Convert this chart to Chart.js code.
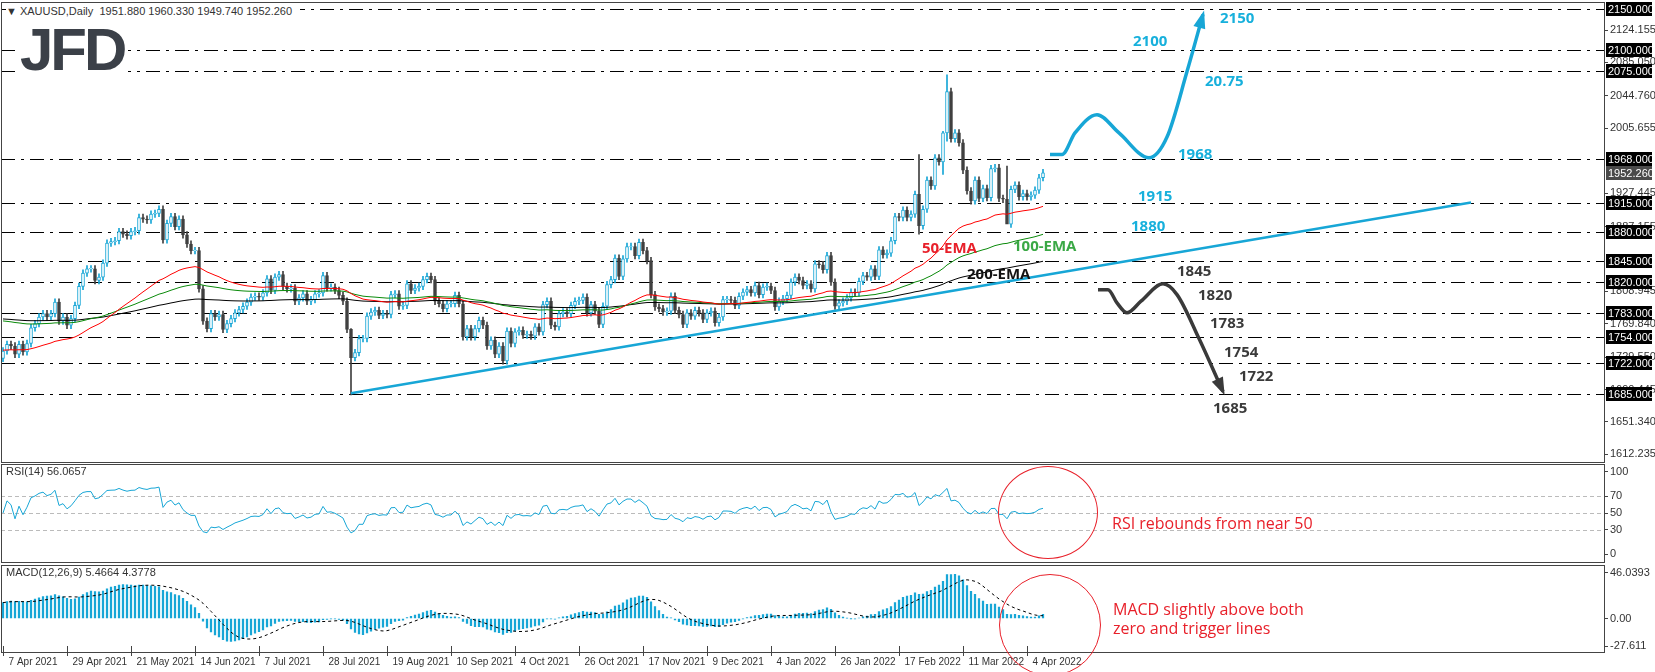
<!DOCTYPE html>
<html>
<head>
<meta charset="utf-8">
<script src="https://cdn.jsdelivr.net/npm/chart.js@4.4.1/dist/chart.umd.min.js"></script>
<style>
  body { margin:0; background:#fff; width:1655px; height:672px; overflow:hidden; font-family:"Liberation Sans", Arial, sans-serif; }
  .pane { position:absolute; left:0; width:1655px; }
  .txt { position:absolute; white-space:nowrap; }
  .lb { font-weight:bold; font-size:15px; line-height:18px; font-family:"Open Sans", "Liberation Sans", sans-serif; }
  .blue { color:#17b0dc; }
  .dark { color:#3a3a3a; }
  .ring { position:absolute; border:1px solid #e8202a; border-radius:50%; }
  .note { position:absolute; white-space:nowrap; font-size:16px; line-height:19px; color:#e8202a; font-family:"Open Sans", sans-serif; }
</style>
</head>
<body>
<div class="pane" style="top:0;height:463px"><canvas id="price"></canvas></div>
<div class="pane" style="top:463px;height:100px"><canvas id="rsi"></canvas></div>
<div class="pane" style="top:564px;height:108px"><canvas id="macd"></canvas></div>

<div class="txt" style="left:6px;top:5px;font-size:11px;color:#333;background:#fff;padding-right:8px">&#9660; XAUUSD,Daily&nbsp; 1951.880 1960.330 1949.740 1952.260</div>
<div class="txt" style="left:20px;top:22px;width:108px;height:56px;background:#fff;font:bold 60px 'Liberation Sans',sans-serif;color:#3b4048;letter-spacing:-3px;line-height:56px">JFD</div>
<div class="txt" style="left:6px;top:465px;font-size:11px;color:#333">RSI(14) 56.0657</div>
<div class="txt" style="left:6px;top:566px;font-size:11px;color:#333">MACD(12,26,9) 5.4664 4.3778</div>

<div class="txt lb blue" style="left:1220px;top:8px">2150</div>
<div class="txt lb blue" style="left:1133px;top:31px">2100</div>
<div class="txt lb blue" style="left:1205px;top:71px">20.75</div>
<div class="txt lb blue" style="left:1178px;top:144px">1968</div>
<div class="txt lb blue" style="left:1138px;top:186px">1915</div>
<div class="txt lb blue" style="left:1131px;top:216px">1880</div>
<div class="txt lb dark" style="left:1177px;top:261px">1845</div>
<div class="txt lb dark" style="left:1198px;top:285px">1820</div>
<div class="txt lb dark" style="left:1210px;top:313px">1783</div>
<div class="txt lb dark" style="left:1224px;top:342px">1754</div>
<div class="txt lb dark" style="left:1239px;top:366px">1722</div>
<div class="txt lb dark" style="left:1213px;top:398px">1685</div>
<div class="txt lb" style="left:922px;top:238px;color:#e8202a">50-EMA</div>
<div class="txt lb" style="left:1013px;top:236px;color:#3aa845">100-EMA</div>
<div class="txt lb" style="left:967px;top:264px;color:#111">200-EMA</div>

<div class="ring" style="left:998px;top:466px;width:98px;height:91px"></div>
<div class="ring" style="left:999px;top:574px;width:100px;height:100px"></div>
<div class="note" style="left:1112px;top:514px">RSI rebounds from near 50</div>
<div class="note" style="left:1113px;top:600px">MACD slightly above both<br>zero and trigger lines</div>

<script>
// daily closes, 16 per label period
const closes = [
  1737,1745,1743,1733,1745,1736,1746,1765,1770,1778,1782,1778,1782,1796,1773,1778,
  1768,1776,1792,1815,1831,1836,1836,1822,1826,1843,1867,1869,1870,1881,1878,1876,
  1881,1882,1898,1896,1895,1902,1903,1908,1871,1891,1899,1887,1896,1877,1866,1858,
  1858,1812,1773,1764,1782,1778,1781,1763,1770,1776,1783,1787,1791,1796,1802,1803,
  1802,1807,1824,1810,1826,1829,1815,1812,1813,1797,1801,1806,1797,1799,1806,1807,
  1828,1813,1814,1810,1804,1797,1763,1729,1735,1752,1752,1779,1784,1786,1780,1782,
  1781,1805,1806,1791,1792,1818,1810,1813,1815,1823,1827,1823,1797,1794,1788,1794,
  1794,1804,1794,1754,1764,1754,1764,1774,1768,1743,1750,1733,1743,1725,1761,1746,
  1760,1762,1756,1757,1755,1766,1760,1793,1797,1768,1766,1782,1784,1782,1792,1797,
  1798,1802,1783,1793,1785,1769,1791,1817,1823,1849,1827,1848,1863,1863,1852,1868,
  1858,1846,1805,1790,1788,1784,1785,1803,1786,1781,1769,1783,1779,1786,1783,1775,
  1783,1785,1771,1778,1799,1799,1798,1792,1803,1808,1811,1807,1816,1805,1814,1815,
  1810,1790,1797,1800,1804,1820,1826,1822,1816,1818,1812,1842,1841,1835,1852,1820,
  1791,1795,1797,1801,1808,1807,1821,1828,1826,1836,1827,1859,1853,1855,1870,1899,
  1898,1907,1898,1902,1926,1888,1908,1943,1936,1970,1965,2000,2050,1993,2000,1988,
  1955,1930,1918,1943,1921,1933,1922,1957,1958,1921,1920,1890,1932,1937,1923,1927,
  1923,1925,1931,1946,1952
];
const openFirst = 1728;
// [index, high, low] for the long wicks
const spikes = [[87, 1764, 1684], [229, 1974, 1878], [236, 2070, 1990], [235, 2002, 1950], [251, 1960, 1895]];
const tickIdx = [0,16,32,48,64,80,96,112,128,144,160,176,192,208,224,240,256];
const tickText = ['7 Apr 2021','29 Apr 2021','21 May 2021','14 Jun 2021','7 Jul 2021','28 Jul 2021',
  '19 Aug 2021','10 Sep 2021','4 Oct 2021','26 Oct 2021','17 Nov 2021','9 Dec 2021','4 Jan 2022',
  '26 Jan 2022','17 Feb 2022','11 Mar 2022','4 Apr 2022'];
const levels = [2150,2100,2075,1968,1915,1880,1845,1820,1783,1754,1722,1685];
const priceTicks = [2124.155,2085.050,2044.760,2005.655,1927.445,1887.155,1808.945,1769.840,1729.550,1690.445,1651.340,1612.235];
const lastPrice = 1952.26;
const ema50Seed = 1738, ema100Seed = 1774, ema200Seed = 1776;
const trendLine = [[87,1686],[367,1916]];
const bullPath = [[261.75,1974],[264.75,1974],[268,2000],[273.5,2022],[279,2000],[286.5,1970],[291,1995],[296,2074],[300,2143]];
const bearPath = [[273.75,1811],[276.25,1811],[278.5,1795],[281,1783],[284.5,1797],[290,1818],[293.5,1805],[299,1752],[305,1688]];

const X_MIN = -0.5, X_MAX = 400.25;
const CYAN = '#17a6d6', DARKC = '#404040';

// indicators
function ema(src, n, seed) {
  const k = 2/(n+1); let e = seed; return src.map(v => (e = v*k + e*(1-k)));
}
const ema50 = ema(closes, 50, ema50Seed), ema100 = ema(closes, 100, ema100Seed), ema200 = ema(closes, 200, ema200Seed);
const e12 = ema(closes, 12, closes[0] - 25), e26 = ema(closes, 26, closes[0] - 40);
const macd = closes.map((c,i) => e12[i] - e26[i]);
const signal = macd.map((v,i) => { const s = macd.slice(Math.max(0,i-8), i+1); return s.reduce((a,b)=>a+b,0)/s.length; });
const rsi = []; { let ag=0.8, al=0.8;
  closes.forEach((c,i) => { const d = i ? c-closes[i-1] : 0;
    ag = (ag*13 + Math.max(d,0))/14; al = (al*13 + Math.max(-d,0))/14; rsi.push(100 - 100/(1+ag/al)); }); }

// candles
const opens = closes.map((c,i) => i ? closes[i-1] : openFirst);
const bodies = [], wicks = [], bodyFill = [], bodyLine = [];
closes.forEach((c,i) => {
  const o = opens[i]; let hi = Math.max(o,c) + 4, lo = Math.min(o,c) - 4;
  spikes.forEach(s => { if (s[0] === i) { hi = s[1]; lo = s[2]; } });
  const up = c >= o;
  bodies.push({x:i, y:[o, c === o ? c + 0.6 : c]});
  wicks.push({x:i, y:[lo, hi]});
  bodyFill.push(up ? '#fff' : DARKC); bodyLine.push(up ? CYAN : DARKC);
});
const pts = a => a.map(p => ({x:p[0], y:p[1]}));
const line = (arr, color, w, extra) => Object.assign({type:'line', data: arr.map((v,i)=>({x:i,y:v})), borderColor:color,
  borderWidth:w, pointRadius:0, tension:0, order:0}, extra || {});

const frame = {
  id:'frame',
  afterDraw(c, args, o) {
    const ctx = c.ctx;
    ctx.save(); ctx.strokeStyle = '#444'; ctx.lineWidth = 1;
    ctx.strokeRect(1.5, o.top + 0.5, 1604 - 1, o.bottom - o.top);
    ctx.restore();
  }
};
const levelPlugin = {
  id:'levels',
  beforeDatasetsDraw(c) {
    const ctx = c.ctx, y = c.scales.y, a = c.chartArea;
    ctx.save(); ctx.strokeStyle = '#000'; ctx.lineWidth = 1; ctx.setLineDash([14,6,3,6]);
    levels.forEach(v => { const p = Math.round(y.getPixelForValue(v)) + 0.5;
      ctx.beginPath(); ctx.moveTo(a.left, p); ctx.lineTo(a.right, p); ctx.stroke(); });
    ctx.restore();
  },
  afterDraw(c) {
    const ctx = c.ctx, y = c.scales.y, x = c.scales.x, a = c.chartArea;
    ctx.save(); ctx.font = '11px "Liberation Sans"'; ctx.textBaseline = 'middle';
    const box = (v, bg) => { const p = Math.round(y.getPixelForValue(v));
      ctx.fillStyle = bg; ctx.fillRect(a.right + 2, p - 7, 46, 14);
      ctx.fillStyle = '#fff'; ctx.fillText(v.toFixed(3), a.right + 4, p + 0.5); };
    levels.forEach(v => box(v, '#000'));
    box(lastPrice, '#4a4a4a');
    // arrow heads
    [[bullPath, CYAN], [bearPath, '#3a3a3a']].forEach(([path, col]) => {
      const p1 = path[path.length-2], p2 = path[path.length-1];
      const x1 = x.getPixelForValue(p1[0]), y1 = y.getPixelForValue(p1[1]);
      const x2 = x.getPixelForValue(p2[0]), y2 = y.getPixelForValue(p2[1]);
      const ang = Math.atan2(y2-y1, x2-x1), L = 15;
      ctx.fillStyle = col; ctx.beginPath();
      ctx.moveTo(x2 + Math.cos(ang)*4, y2 + Math.sin(ang)*4);
      ctx.lineTo(x2 - L*Math.cos(ang - 0.42), y2 - L*Math.sin(ang - 0.42));
      ctx.lineTo(x2 - L*Math.cos(ang + 0.42), y2 - L*Math.sin(ang + 0.42));
      ctx.closePath(); ctx.fill();
    });
    ctx.restore();
  }
};
const rsiLevels = {
  id:'rsiLevels',
  beforeDatasetsDraw(c) {
    const ctx = c.ctx, y = c.scales.y, a = c.chartArea;
    ctx.save(); ctx.strokeStyle = '#bbb'; ctx.setLineDash([4,3]);
    [70,50,30].forEach(v => { const p = Math.round(y.getPixelForValue(v)) + 0.5;
      ctx.beginPath(); ctx.moveTo(a.left, p); ctx.lineTo(a.right, p); ctx.stroke(); });
    ctx.restore();
  }
};

const font = {family:'"Liberation Sans"', size:11};
const xHidden = {type:'linear', min:X_MIN, max:X_MAX, display:false, offset:false};
const yRight = (min, max, ticks, fmt) => ({
  position:'right', min, max,
  afterFit: s => { s.width = 51; },
  afterBuildTicks: s => { s.ticks = ticks.map(v => ({value:v})); },
  grid:{drawOnChartArea:false, tickLength:4, color:'#444'},
  border:{color:'#444'},
  ticks:{color:'#333', font, padding:2, callback: fmt, autoSkip:false}
});
const base = (pad, fr) => ({responsive:true, maintainAspectRatio:false, animation:false,
  layout:{padding:pad}, plugins:{legend:{display:false}, tooltip:{enabled:false}, frame:fr}});

Chart.defaults.font.family = '"Liberation Sans"';

// price pane
new Chart(document.getElementById('price'), {
  type:'bar',
  data:{datasets:[
    {data:wicks, backgroundColor:bodyLine, barThickness:1, grouped:false, order:3},
    {data:bodies, backgroundColor:bodyFill, borderColor:bodyLine, borderWidth:1, borderSkipped:false, barThickness:3, grouped:false, order:2},
    line(ema50, '#ff0000', 1),
    line(ema100, '#0a8a0a', 1),
    line(ema200, '#000', 1),
    {type:'line', data:pts(trendLine), borderColor:CYAN, borderWidth:2.5, pointRadius:0, order:1},
    {type:'line', data:pts(bullPath), borderColor:CYAN, borderWidth:3.5, pointRadius:0, cubicInterpolationMode:'monotone', order:1},
    {type:'line', data:pts(bearPath), borderColor:'#3a3a3a', borderWidth:3.5, pointRadius:0, cubicInterpolationMode:'monotone', order:1}
  ]},
  options:Object.assign(base({top:6, bottom:5, left:1}, {top:2, bottom:462}), {
    scales:{ x:xHidden, y:yRight(1612.235, 2150, priceTicks, v => v.toFixed(3)) }
  }),
  plugins:[levelPlugin, frame]
});

// RSI pane
new Chart(document.getElementById('rsi'), {
  type:'line',
  data:{datasets:[line(rsi, CYAN, 1)]},
  options:Object.assign(base({top:8, bottom:8, left:1}, {top:1, bottom:99}), {
    scales:{ x:xHidden, y:yRight(0, 100, [100,70,50,30,0], v => String(v)) }
  }),
  plugins:[rsiLevels, frame]
});

// MACD pane
new Chart(document.getElementById('macd'), {
  type:'bar',
  data:{datasets:[
    {data:macd.map((v,i)=>({x:i,y:v})), backgroundColor:CYAN, barThickness:1.6, grouped:false, order:2},
    line(signal, '#000', 1, {borderDash:[3,3]})
  ]},
  options:Object.assign(base({top:7, bottom:0, left:1}, {top:1, bottom:88}), {
    scales:{
      x:{type:'linear', min:X_MIN, max:X_MAX, position:'bottom', offset:false,
        afterFit: s => { s.height = 26; },
        afterBuildTicks: s => { s.ticks = tickIdx.map(v => ({value:v})); },
        grid:{drawOnChartArea:false, tickLength:10, color:'#444', offset:false},
        border:{display:false},
        ticks:{color:'#333', font:{family:'"Liberation Sans"', size:10}, padding:0, maxRotation:0, autoSkip:false, align:'start',
          callback:(v) => '  ' + (tickText[tickIdx.indexOf(v)] || '')}},
      y:yRight(-27.611, 46.0393, [46.0393, 0, -27.611], v => v === 0 ? '0.00' : (v > 40 ? '46.0393' : '-27.611'))
    }
  }),
  plugins:[frame]
});
</script>
</body>
</html>
